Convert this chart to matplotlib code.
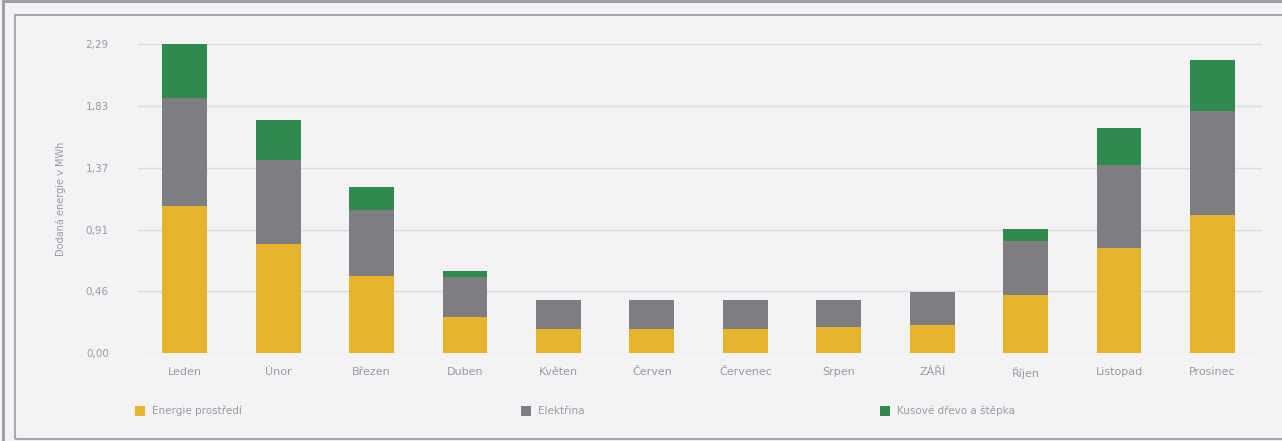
import matplotlib
matplotlib.use("Agg")
import matplotlib.pyplot as plt
from matplotlib.patches import Rectangle
import numpy as np

months = ["Leden", "Únor", "Březen", "Duben", "Květen", "Červen", "Červenec",
          "Srpen", "ZÁŘÍ", "Říjen", "Listopad", "Prosinec"]
energie_prostredi = [1.09, 0.81, 0.57, 0.27, 0.18, 0.18, 0.18, 0.19, 0.21, 0.43, 0.78, 1.02]
elektrina = [0.80, 0.62, 0.49, 0.29, 0.21, 0.21, 0.21, 0.20, 0.24, 0.40, 0.61, 0.77]
drevo = [0.40, 0.30, 0.17, 0.05, 0.00, 0.00, 0.00, 0.00, 0.00, 0.09, 0.28, 0.38]
yticks = [0.00, 0.46, 0.91, 1.37, 1.83, 2.29]
series_names = ["Energie prostředí", "Elektřina", "Kusové dřevo a štěpka"]

c_yellow = "#E6B42A"
c_gray = "#7E7D82"
c_green = "#2F8A4E"
bg = "#F3F3F5"
text_c = "#9A9AA0"

fig = plt.figure(figsize=(12.82, 4.41), dpi=100)
fig.patch.set_facecolor(bg)
ax = fig.add_axes([138/1282, 1 - 353/441, (1262-138)/1282, (353-44)/441])
ax.set_facecolor(bg)

x = np.arange(len(months))
b1 = ax.bar(x, energie_prostredi, width=0.48, color=c_yellow, zorder=3)
b2 = ax.bar(x, elektrina, width=0.48, bottom=energie_prostredi, color=c_gray, zorder=3)
bottom2 = np.array(energie_prostredi) + np.array(elektrina)
b3 = ax.bar(x, drevo, width=0.48, bottom=bottom2, color=c_green, zorder=3)

ax.set_ylim(0, 2.29)
ax.set_xlim(-0.5, 11.53)
ax.set_yticks(yticks)
ax.set_yticklabels([f"{v:.2f}".replace(".", ",") for v in yticks], color=text_c, fontsize=7.5)
ax.set_xticks(x)
ax.set_xticklabels(months, color=text_c, fontsize=8)
ax.tick_params(axis="x", length=0, pad=10)
ax.tick_params(axis="y", length=0, pad=21)
ax.grid(axis="y", color="#DADADF", linewidth=1, zorder=0)
for s in ax.spines.values():
    s.set_visible(False)
ax.set_ylabel("Dodaná energie v MWh", color=text_c, fontsize=7, labelpad=14)

handles = [b1, b2, b3]
leg_x = [135, 521, 880]
for h, name, lx in zip(handles, series_names, leg_x):
    lg = fig.legend([h], [name], loc="center left",
                    bbox_to_anchor=(lx/1282, 1 - 411/441), frameon=False,
                    fontsize=7.5, handlelength=1.0, handleheight=1.1,
                    handletextpad=0.6, borderaxespad=0, borderpad=0)
    for t in lg.get_texts():
        t.set_color(text_c)

# frame borders
fig.add_artist(Rectangle((15/1282, 2/441), 1.2, 424/441, transform=fig.transFigure,
                         fill=False, edgecolor="#A8A8AC", linewidth=1.5))
fig.add_artist(Rectangle((3/1282, -0.1), 1.2, 1.1 - 1/441, transform=fig.transFigure,
                         fill=False, edgecolor="#9A9A9E", linewidth=2))

fig.savefig("out.png", dpi=100, facecolor=bg)
